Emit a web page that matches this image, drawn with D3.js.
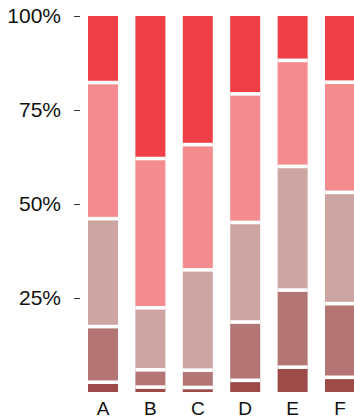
<!DOCTYPE html>
<html>
<head>
<meta charset="utf-8">
<script src="https://cdn.jsdelivr.net/npm/d3@7"></script>
<style>
  html, body { margin: 0; padding: 0; background: #fff; }
  svg { display: block; }
  .axis text { font-family: "Liberation Sans", Arial, sans-serif; fill: #111; }
</style>
</head>
<body>
<svg id="chart" width="354" height="418"></svg>
<script>
// Categories along the x axis
const categories = ["A", "B", "C", "D", "E", "F"];

// Share of each band per category (percent), bottom band first
const band1 = [2.6, 1.3, 1.2, 3.1, 6.6, 3.9];
const band2 = [14.8, 4.6, 4.6, 15.5, 20.5, 19.6];
const band3 = [28.7, 16.5, 26.7, 26.5, 32.9, 29.6];
const band4 = [36.2, 39.7, 33.3, 34.2, 28.2, 29.3];
const band5 = [17.7, 37.9, 34.2, 20.7, 11.8, 17.6];

const bandKeys = ["band1", "band2", "band3", "band4", "band5"];
const bandColors = ["#9d4a49", "#b47675", "#cda6a4", "#f48b8f", "#ef3e45"];

// Y axis tick values and labels
const yTicks = [0.25, 0.5, 0.75, 1];
const yTickLabels = ["25%", "50%", "75%", "100%"];

const rows = categories.map((c, i) => ({
  category: c,
  band1: band1[i], band2: band2[i], band3: band3[i], band4: band4[i], band5: band5[i]
}));

const stacked = d3.stack()
  .keys(bandKeys)
  .offset(d3.stackOffsetExpand)(rows);

const svg = d3.select("#chart");

const x = d3.scaleBand()
  .domain(categories)
  .range([78.5, 364.5])
  .paddingInner(0.367)
  .paddingOuter(0.2);

const y = d3.scaleLinear()
  .domain([0, 1])
  .range([392, 16]);

const color = d3.scaleOrdinal().domain(bandKeys).range(bandColors);

// Stacked segments
const layers = svg.append("g")
  .selectAll("g")
  .data(stacked)
  .join("g")
  .attr("fill", d => color(d.key));

layers.selectAll("rect")
  .data(d => d)
  .join("rect")
  .attr("x", d => x(d.data.category))
  .attr("width", x.bandwidth())
  .attr("y", d => y(d[1]))
  .attr("height", d => y(d[0]) - y(d[1]));

// White separators between adjacent segments
const gap = 3.6;
svg.append("g")
  .selectAll("g")
  .data(stacked.slice(0, -1))
  .join("g")
  .selectAll("rect")
  .data(d => d)
  .join("rect")
  .attr("fill", "#fff")
  .attr("x", d => x(d.data.category))
  .attr("width", x.bandwidth())
  .attr("y", d => y(d[1]) - gap / 2)
  .attr("height", gap);

// Y axis
const yAxis = svg.append("g")
  .attr("class", "axis")
  .attr("transform", "translate(80,0)")
  .call(d3.axisLeft(y)
    .tickValues(yTicks)
    .tickFormat((d, i) => yTickLabels[i])
    .tickSize(6)
    .tickPadding(13));
yAxis.select(".domain").remove();
yAxis.selectAll("line").attr("stroke", "#333");
yAxis.selectAll("text").style("font-size", "21px");

// X axis
const xAxis = svg.append("g")
  .attr("class", "axis")
  .attr("transform", "translate(0,392)")
  .call(d3.axisBottom(x).tickSize(0).tickPadding(10));
xAxis.select(".domain").remove();
xAxis.selectAll("text").style("font-size", "19px");
</script>
</body>
</html>
